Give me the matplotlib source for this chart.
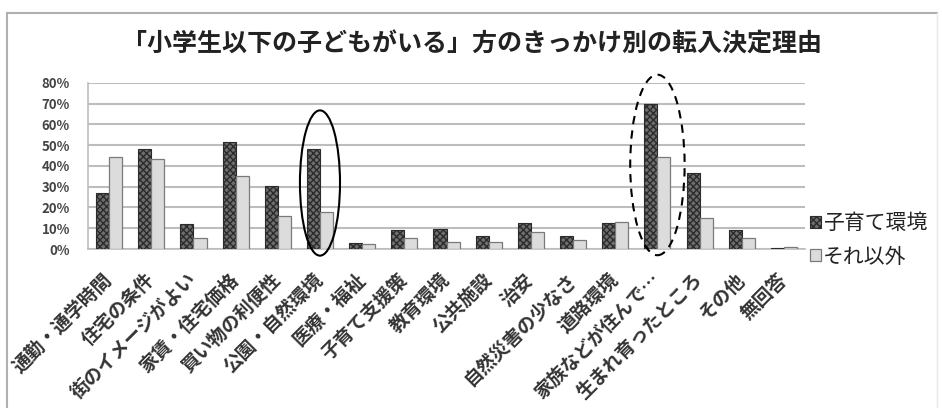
import numpy as np
import matplotlib.pyplot as plt
from matplotlib.patches import Ellipse
from matplotlib.lines import Line2D

plt.rcParams['font.family'] = ['Noto Sans CJK JP', 'DejaVu Sans']

categories = ['通勤・通学時間', '住宅の条件', '街のイメージがよい', '家賃・住宅価格',
              '買い物の利便性', '公園・自然環境', '医療・福祉', '子育て支援策',
              '教育環境', '公共施設', '治安', '自然災害の少なさ', '道路環境',
              '家族などが住んで…', '生まれ育ったところ', 'その他', '無回答']
kosodate = [27, 48, 12, 51.7, 30.5, 48, 2.9, 9.2, 9.4, 6.3, 12.3, 6.3, 12.3, 70, 36.5, 9.2, 0.3]
sorenigai = [44.3, 43.2, 5.1, 35.2, 16, 17.7, 2.6, 5.3, 3.5, 3.5, 8, 4.3, 13, 44.3, 14.8, 5.4, 0.9]
series_names = ['子育て環境', 'それ以外']
yticks = [0, 10, 20, 30, 40, 50, 60, 70, 80]

fig = plt.figure(figsize=(9.42, 4.08), dpi=100)
ax = fig.add_axes([0.0934, 0.3897, 0.7612, 0.4069])

x = np.arange(len(categories))
w = 0.31
b1 = ax.bar(x - w / 2, kosodate, w, color='#6e6e6e', edgecolor='#2b2b2b',
            hatch='xxxxx', linewidth=0.8, zorder=3)
b2 = ax.bar(x + w / 2, sorenigai, w, color='#dcdcdc', edgecolor='#7a7a7a',
            linewidth=0.9, zorder=3)

ax.set_xlim(-0.5, len(categories) - 0.5)
ax.set_ylim(0, 80)
ax.set_yticks(yticks)
ax.set_yticklabels([f'{v}%' for v in yticks], fontsize=9.5, fontweight='bold', color='#444444')
ax.yaxis.grid(True, color='#bdbdbd', linewidth=1.5, zorder=0)
ax.tick_params(axis='both', length=0)
ax.tick_params(axis='y', pad=13)
for s in ['top', 'right']:
    ax.spines[s].set_visible(False)
ax.spines['left'].set_color('#bdbdbd')
ax.spines['bottom'].set_color('#bdbdbd')
ax.spines['left'].set_linewidth(1.2)
ax.spines['bottom'].set_linewidth(1.2)

ax.set_xticks(x)
ax.set_xticklabels(categories, rotation=45, ha='right', va='center', rotation_mode='anchor',
                   fontsize=13.5, fontweight='bold', color='#333333')
ax.tick_params(axis='x', pad=20)

# 強調の楕円
ax.add_patch(Ellipse((5, 31.8), 0.95, 70, fill=False, edgecolor='black',
                     linewidth=1.5, clip_on=False, zorder=5))
ax.add_patch(Ellipse((13, 40.5), 1.29, 87, fill=False, edgecolor='black',
                     linewidth=1.5, linestyle=(0, (4, 3)), clip_on=False, zorder=5))

ax.legend([b1, b2], series_names, loc='center left', bbox_to_anchor=(0.99, 0.055),
          frameon=False, fontsize=15, handlelength=0.5, handleheight=0.5,
          handletextpad=0.1, labelspacing=0.55, labelcolor='#222222', borderaxespad=0.2)

fig.text(0.501, 0.89, '「小学生以下の子どもがいる」方のきっかけ別の転入決定理由',
         ha='center', va='center', fontsize=18, fontweight='bold', color='#222222')

# 外枠
fig.add_artist(Line2D([0.0074, 0.995], [0.968, 0.968], color='#b0b0b0', linewidth=1.5))
fig.add_artist(Line2D([0.0074, 0.0074], [0.0, 0.968], color='#b0b0b0', linewidth=1.5))
fig.add_artist(Line2D([0.995, 0.995], [0.0, 0.968], color='#e8e8e8', linewidth=1.0))

fig.savefig('out.png', dpi=100)
